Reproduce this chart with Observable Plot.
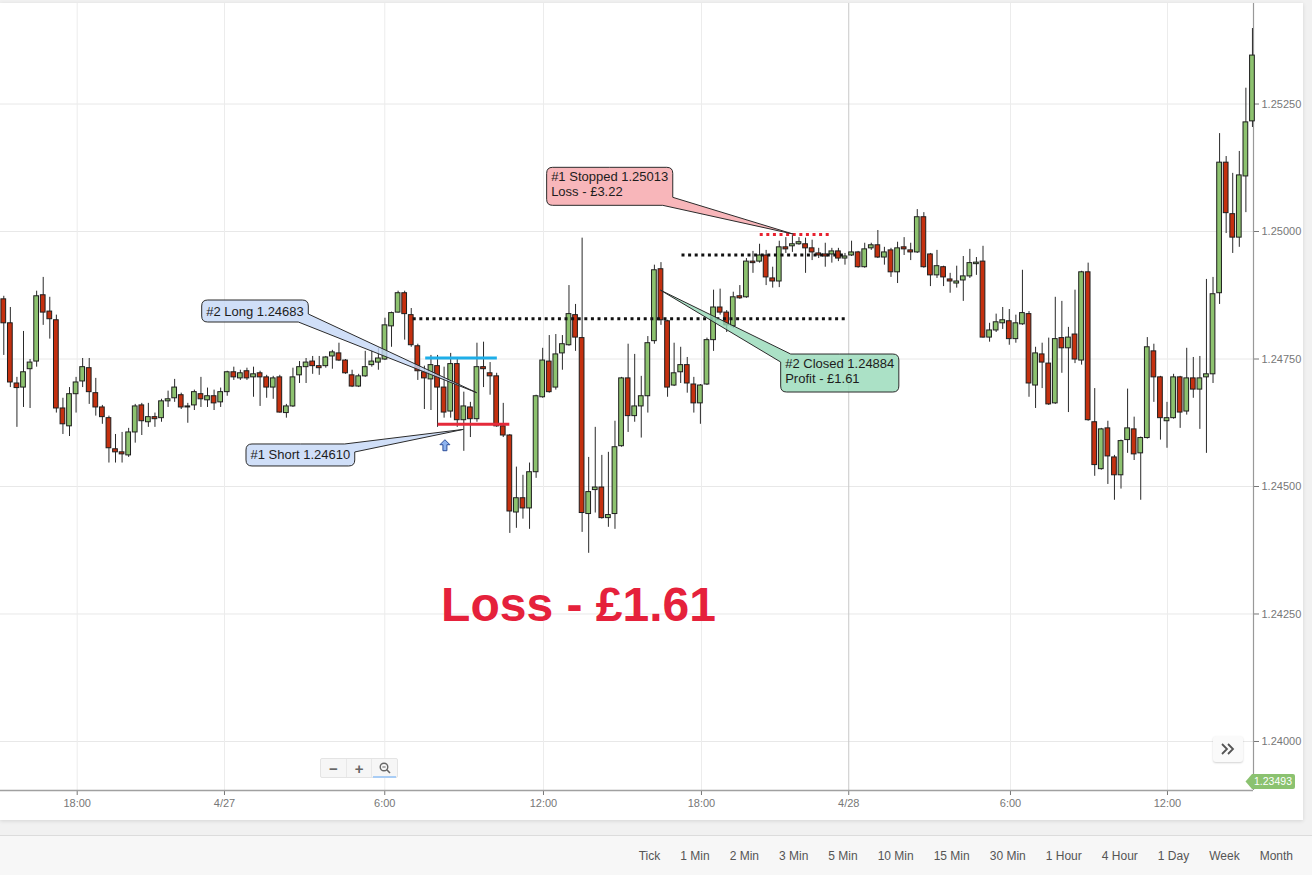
<!DOCTYPE html>
<html>
<head>
<meta charset="utf-8">
<script src="https://cdn.jsdelivr.net/npm/d3@7"></script>
<script src="https://cdn.jsdelivr.net/npm/@observablehq/plot@0.6"></script>
<style>
  html, body { margin: 0; padding: 0; }
  body { width: 1312px; height: 875px; background: #f1f1f1; position: relative; overflow: hidden;
         font-family: Arial, "Liberation Sans", sans-serif; }
  #panel { position: absolute; left: 0; top: 3px; width: 1303px; height: 817px; background: #fff;
           box-shadow: 0 1px 4px rgba(0,0,0,0.12); }
  #panel svg { position: absolute; left: 0; top: 0; }
  #toolbar { position: absolute; left: 0; top: 835px; width: 1312px; height: 40px; background: #f7f7f7;
             border-top: 1px solid #dcdcdc; display: flex; justify-content: flex-end; align-items: center;
             gap: 20px; padding-right: 19px; box-sizing: border-box; font-size: 12px; color: #555; }
  #zoomctl { position: absolute; left: 320px; top: 755px; width: 78px; height: 20px; background: #f6f6f6;
             border: 1px solid #e4e4e4; border-radius: 2px; display: flex; box-sizing: border-box; }
  #zoomctl .zb { flex: 1; display: flex; align-items: center; justify-content: center; color: #666;
                 font-size: 15px; font-weight: bold; border-right: 1px solid #e8e8e8; position: relative; }
  #zoomctl .zb:last-child { border-right: none; }
  #zoomctl .mag::after { content: ""; position: absolute; left: 1px; right: 1px; bottom: -1px; height: 2px; background: #a9cdf5; }
  #more { position: absolute; left: 1213px; top: 733px; width: 30px; height: 26px; background: #fafafa;
          border-radius: 3px; box-shadow: 0 1px 2px rgba(0,0,0,0.18); display: flex; align-items: center; justify-content: center; }
</style>
</head>
<body>
<div id="panel">
  <div id="zoomctl">
    <div class="zb">−</div>
    <div class="zb">+</div>
    <div class="zb mag"><svg width="12" height="12" viewBox="0 0 12 12" style="position:static"><circle cx="5" cy="5" r="3.8" fill="none" stroke="#666" stroke-width="1.4"/><line x1="7.8" y1="7.8" x2="11" y2="11" stroke="#666" stroke-width="1.6"/><line x1="3.4" y1="5" x2="6.6" y2="5" stroke="#666" stroke-width="1"/></svg></div>
  </div>
  <div id="more"><svg width="16" height="14" viewBox="0 0 16 14" style="position:static"><polyline points="2,2 7,7 2,12" fill="none" stroke="#555" stroke-width="1.8"/><polyline points="8,2 13,7 8,12" fill="none" stroke="#555" stroke-width="1.8"/></svg></div>
</div>
<div id="toolbar"></div>
<script>
// ---------- data (15-minute candles) ----------
const open = [1.24867,1.24820,1.24702,1.24694,1.24730,1.24745,1.24875,1.24843,1.24826,1.24653,
1.24618,1.24681,1.24706,1.24732,1.24683,1.24655,1.24634,1.24573,1.24567,1.24561,
1.24606,1.24659,1.24626,1.24636,1.24634,1.24667,1.24673,1.24679,1.24655,1.24659,
1.24681,1.24669,1.24677,1.24665,1.24685,1.24724,1.24712,1.24726,1.24714,1.24722,
1.24714,1.24694,1.24714,1.24644,1.24657,1.24718,1.24734,1.24745,1.24736,1.24736,
1.24755,1.24761,1.24747,1.24718,1.24696,1.24716,1.24738,1.24743,1.24749,1.24814,
1.24841,1.24879,1.24836,1.24775,1.24724,1.24710,1.24736,1.24694,1.24647,1.24740,
1.24630,1.24655,1.24632,1.24734,1.24722,1.24716,1.24618,1.24600,1.24449,1.24477,
1.24457,1.24528,1.24675,1.24745,1.24694,1.24761,1.24777,1.24836,1.24791,1.24446,
1.24493,1.24498,1.24438,1.24446,1.24579,1.24712,1.24638,1.24657,1.24677,1.24785,
1.24926,1.24824,1.24698,1.24724,1.24738,1.24700,1.24663,1.24700,1.24787,1.24851,
1.24841,1.24814,1.24873,1.24871,1.24941,1.24941,1.24953,1.24908,1.24902,1.24969,
1.24971,1.24975,1.24975,1.24967,1.24957,1.24955,1.24955,1.24961,1.24947,1.24953,
1.24959,1.24930,1.24967,1.24973,1.24949,1.24963,1.24920,1.24969,1.24963,1.24959,
1.25028,1.24955,1.24914,1.24930,1.24906,1.24898,1.24904,1.24912,1.24936,1.24941,
1.24792,1.24806,1.24820,1.24824,1.24789,1.24818,1.24838,1.24698,1.24759,1.24741,
1.24663,1.24791,1.24771,1.24798,1.24747,1.24920,1.24626,1.24534,1.24614,1.24557,
1.24522,1.24591,1.24612,1.24565,1.24595,1.24765,1.24714,1.24628,1.24634,1.24714,
1.24647,1.24712,1.24690,1.24714,1.24720,1.24879,1.25135,1.25034,1.24988,1.25108,
1.25216];
const high = [1.24873,1.24851,1.24714,1.24804,1.24749,1.24883,1.24910,1.24871,1.24836,1.24673,
1.24694,1.24714,1.24751,1.24751,1.24712,1.24659,1.24638,1.24602,1.24606,1.24614,
1.24661,1.24663,1.24663,1.24644,1.24671,1.24687,1.24710,1.24683,1.24663,1.24689,
1.24714,1.24693,1.24689,1.24693,1.24726,1.24734,1.24728,1.24732,1.24734,1.24726,
1.24718,1.24716,1.24718,1.24661,1.24732,1.24745,1.24751,1.24755,1.24755,1.24755,
1.24767,1.24781,1.24749,1.24728,1.24720,1.24765,1.24767,1.24771,1.24830,1.24842,
1.24883,1.24883,1.24849,1.24779,1.24736,1.24757,1.24757,1.24734,1.24761,1.24753,
1.24685,1.24665,1.24781,1.24783,1.24743,1.24722,1.24663,1.24602,1.24538,1.24522,
1.24546,1.24679,1.24771,1.24796,1.24798,1.24796,1.24894,1.24857,1.24987,1.24557,
1.24616,1.24561,1.24567,1.24628,1.24714,1.24779,1.24759,1.24716,1.24794,1.24934,
1.24939,1.24826,1.24781,1.24773,1.24753,1.24714,1.24700,1.24791,1.24885,1.24887,
1.24845,1.24881,1.24894,1.24947,1.24961,1.24975,1.24963,1.24930,1.24981,1.24988,
1.24992,1.24988,1.24987,1.24983,1.24967,1.24977,1.24967,1.24967,1.24957,1.24981,
1.24961,1.24977,1.24977,1.25002,1.24969,1.24967,1.24979,1.24988,1.24977,1.25043,
1.25037,1.24957,1.24963,1.24932,1.24918,1.24932,1.24951,1.24965,1.24949,1.24971,
1.24820,1.24838,1.24851,1.24847,1.24836,1.24924,1.24843,1.24773,1.24781,1.24791,
1.24871,1.24863,1.24812,1.24885,1.24922,1.24938,1.24692,1.24614,1.24628,1.24561,
1.24591,1.24691,1.24636,1.24597,1.24792,1.24779,1.24716,1.24665,1.24720,1.24716,
1.24771,1.24753,1.24755,1.24906,1.24910,1.25192,1.25147,1.25114,1.25157,1.25281,
1.25398];
const low = [1.24757,1.24694,1.24616,1.24655,1.24653,1.24734,1.24816,1.24789,1.24644,1.24602,
1.24598,1.24644,1.24694,1.24661,1.24638,1.24622,1.24546,1.24546,1.24546,1.24557,
1.24585,1.24600,1.24616,1.24616,1.24626,1.24655,1.24665,1.24651,1.24624,1.24649,
1.24655,1.24655,1.24649,1.24655,1.24677,1.24708,1.24708,1.24708,1.24675,1.24657,
1.24673,1.24671,1.24644,1.24634,1.24655,1.24702,1.24702,1.24720,1.24718,1.24732,
1.24730,1.24745,1.24720,1.24694,1.24694,1.24714,1.24734,1.24728,1.24747,1.24773,
1.24840,1.24787,1.24773,1.24708,1.24651,1.24649,1.24616,1.24634,1.24634,1.24616,
1.24569,1.24596,1.24626,1.24694,1.24679,1.24616,1.24596,1.24408,1.24418,1.24436,
1.24416,1.24516,1.24673,1.24683,1.24689,1.24728,1.24775,1.24765,1.24410,1.24369,
1.24448,1.24436,1.24420,1.24416,1.24577,1.24606,1.24626,1.24595,1.24644,1.24779,
1.24816,1.24675,1.24696,1.24702,1.24683,1.24644,1.24622,1.24698,1.24765,1.24836,
1.24802,1.24810,1.24867,1.24869,1.24918,1.24938,1.24894,1.24889,1.24890,1.24957,
1.24959,1.24973,1.24918,1.24943,1.24947,1.24930,1.24938,1.24941,1.24934,1.24951,
1.24928,1.24928,1.24963,1.24947,1.24934,1.24910,1.24898,1.24953,1.24943,1.24957,
1.24928,1.24892,1.24908,1.24892,1.24879,1.24889,1.24863,1.24908,1.24914,1.24791,
1.24783,1.24802,1.24808,1.24777,1.24781,1.24816,1.24675,1.24653,1.24692,1.24659,
1.24661,1.24722,1.24645,1.24741,1.24738,1.24628,1.24520,1.24532,1.24504,1.24473,
1.24495,1.24565,1.24551,1.24473,1.24593,1.24665,1.24591,1.24575,1.24632,1.24614,
1.24640,1.24673,1.24612,1.24565,1.24702,1.24857,1.24996,1.24957,1.24969,1.25037,
1.25204];
const close = [1.24820,1.24704,1.24693,1.24724,1.24743,1.24873,1.24841,1.24828,1.24653,1.24622,
1.24681,1.24704,1.24734,1.24685,1.24655,1.24636,1.24575,1.24567,1.24563,1.24606,
1.24657,1.24628,1.24636,1.24632,1.24667,1.24671,1.24694,1.24655,1.24657,1.24685,
1.24671,1.24677,1.24663,1.24685,1.24724,1.24714,1.24722,1.24712,1.24720,1.24714,
1.24694,1.24712,1.24645,1.24657,1.24714,1.24734,1.24743,1.24736,1.24732,1.24753,
1.24763,1.24747,1.24722,1.24696,1.24716,1.24734,1.24745,1.24751,1.24816,1.24840,
1.24879,1.24838,1.24777,1.24726,1.24712,1.24738,1.24694,1.24645,1.24740,1.24630,
1.24657,1.24632,1.24734,1.24730,1.24716,1.24618,1.24600,1.24451,1.24477,1.24457,
1.24528,1.24677,1.24747,1.24685,1.24759,1.24779,1.24838,1.24792,1.24448,1.24489,
1.24498,1.24438,1.24444,1.24577,1.24712,1.24638,1.24657,1.24677,1.24781,1.24924,
1.24826,1.24694,1.24722,1.24738,1.24702,1.24663,1.24698,1.24787,1.24851,1.24841,
1.24816,1.24871,1.24869,1.24941,1.24938,1.24953,1.24910,1.24902,1.24969,1.24965,
1.24975,1.24979,1.24967,1.24959,1.24953,1.24951,1.24961,1.24947,1.24951,1.24959,
1.24930,1.24965,1.24973,1.24949,1.24959,1.24920,1.24967,1.24965,1.24959,1.25028,
1.24930,1.24914,1.24932,1.24910,1.24902,1.24902,1.24912,1.24938,1.24939,1.24792,
1.24806,1.24822,1.24826,1.24789,1.24820,1.24840,1.24702,1.24761,1.24743,1.24661,
1.24789,1.24771,1.24792,1.24749,1.24920,1.24630,1.24542,1.24612,1.24559,1.24522,
1.24589,1.24614,1.24563,1.24595,1.24773,1.24714,1.24634,1.24634,1.24714,1.24645,
1.24712,1.24690,1.24712,1.24720,1.24877,1.25135,1.25036,1.24988,1.25110,1.25214,
1.25345];

// axis: positions of the time gridlines (in candle index units) and their labels
const tickPos    = [11.17, 33.58, 57.97, 82.12, 106.16, 128.57, 153.18, 177.07];
const tickLabels = ["18:00", "4/27", "6:00", "12:00", "18:00", "4/28", "6:00", "12:00"];
const dayBreak   = ["4/28"];
const yTicks     = [1.24000, 1.24250, 1.24500, 1.24750, 1.25000, 1.25250];
const xDomain    = [-0.5, 190.16];
const yDomain    = [1.239039, 1.254471];
const lastPrice  = 1.23493;

// trade levels (candle index range, price)
const dottedBlack = [{from: 62.3, to: 128.1, price: 1.24829}, {from: 103.2, to: 128.1, price: 1.24954}];
const dottedRed   = [{from: 115.1, to: 125.6, price: 1.24994}];
const solidBlue   = [{from: 64.2, to: 75.1, price: 1.24752}];
const solidRed    = [{from: 66.1, to: 77.0, price: 1.24622}];
const entryMark   = [{i: 67.2, price: 1.24579}];

// callouts: text, box anchor (index, price), pointer target (index, price)
const calloutLines  = [["#2 Long 1.24683"], ["#1 Short 1.24610"], ["#1 Stopped 1.25013", "Loss - £3.22"], ["#2 Closed 1.24884", "Profit - £1.61"]];
const calloutAt     = [[30.19, 1.248647], [36.93, 1.245824], [82.68, 1.251249], [118.29, 1.247588]];
const calloutTarget = [[72.03, 1.24683], [70.0, 1.24611], [120.2, 1.24994], [100.0, 1.24884]];
const bigLabel      = [{text: "Loss - £1.61", i: 87.45, price: 1.24266}];
const timeframes    = ["Tick", "1 Min", "2 Min", "3 Min", "5 Min", "10 Min", "15 Min", "30 Min", "1 Hour", "4 Hour", "1 Day", "Week", "Month"];

// ---------- styles ----------
const FONT = "Arial, 'Liberation Sans', sans-serif";
const UP = "#8dc26f", DOWN = "#c4300f", EDGE = "#1e1e1e";
const calloutFill = ["#c6d8f6", "#c6d8f6", "#f6a6ab", "#98dab9"];

// ---------- build ----------
const candles = open.map((o, i) => ({i, o, h: high[i], l: low[i], c: close[i]}));
const up = candles.filter(d => d.c >= d.o), down = candles.filter(d => d.c < d.o);
const labelOf = new Map(tickPos.map((p, k) => [p, tickLabels[k]]));
const ticksData = tickPos.map((p, k) => ({p, label: tickLabels[k]}));

const chart = Plot.plot({
  width: 1303, height: 817,
  marginLeft: 0, marginRight: 50, marginTop: 0, marginBottom: 30,
  style: {background: "transparent", fontFamily: FONT, fontSize: "11px", color: "#777", overflow: "visible"},
  x: {domain: xDomain, axis: "bottom", ticks: tickPos, tickFormat: d => labelOf.get(d), tickSize: 5, tickPadding: 4, label: null},
  y: {domain: yDomain, axis: "right", ticks: yTicks, tickFormat: d3.format(".5f"), tickSize: 5, tickPadding: 3, label: null},
  marks: [
    Plot.ruleY(yTicks, {stroke: "#e8e8e8", strokeWidth: 1}),
    Plot.ruleX(ticksData.filter(d => !dayBreak.includes(d.label)), {x: "p", stroke: "#ececec", strokeWidth: 1}),
    Plot.ruleX(ticksData.filter(d => dayBreak.includes(d.label)), {x: "p", stroke: "#c9c9c9", strokeWidth: 1}),
    Plot.ruleY([yDomain[0]], {stroke: "#a0a0a0", strokeWidth: 1.5}),
    Plot.ruleX([xDomain[1]], {stroke: "#999", strokeWidth: 1.2}),
    Plot.ruleX(candles, {x: "i", y1: "l", y2: "h", stroke: "#2a2a2a", strokeWidth: 1}),
    Plot.rect(up,   {x1: d => d.i - 0.36, x2: d => d.i + 0.36, y1: "o", y2: "c", fill: UP,   stroke: EDGE, strokeWidth: 1}),
    Plot.rect(down, {x1: d => d.i - 0.36, x2: d => d.i + 0.36, y1: "o", y2: "c", fill: DOWN, stroke: EDGE, strokeWidth: 1}),
    Plot.ruleY(dottedBlack, {x1: "from", x2: "to", y: "price", stroke: "#111", strokeWidth: 3, strokeDasharray: "3,3.6"}),
    Plot.ruleY(dottedRed,   {x1: "from", x2: "to", y: "price", stroke: "#e8202e", strokeWidth: 3, strokeDasharray: "3,3.6"}),
    Plot.ruleY(solidBlue,   {x1: "from", x2: "to", y: "price", stroke: "#1eaee8", strokeWidth: 3}),
    Plot.ruleY(solidRed,    {x1: "from", x2: "to", y: "price", stroke: "#e52a3a", strokeWidth: 3}),
    Plot.text(bigLabel, {x: "i", y: "price", text: "text", fontSize: 48, fontWeight: "bold", fill: "#e5213b", fontFamily: FONT})
  ]
});
document.getElementById("panel").prepend(chart);

// ---------- overlays through the plot's own scales ----------
const sx = chart.scale("x"), sy = chart.scale("y");
const X = v => sx.apply(v), Y = v => sy.apply(v);
const svg = d3.select(chart);
const overlay = svg.append("g").attr("font-family", FONT).attr("text-anchor", "start");

// entry arrow
entryMark.forEach(m => {
  const cx = X(m.i), cy = Y(m.price);
  overlay.append("path")
    .attr("d", `M${cx},${cy-6}L${cx+5},${cy-1}L${cx+2},${cy-1}L${cx+2},${cy+5}L${cx-2},${cy+5}L${cx-2},${cy-1}L${cx-5},${cy-1}Z`)
    .attr("fill", "#8db3ef").attr("stroke", "#2d4f9a").attr("stroke-width", 1);
});

function bubble(x0, y0, x1, y1, tx, ty, r, a, b) {
  const cx = (x0 + x1) / 2, cy = (y0 + y1) / 2;
  const corner = (ty < cy ? "T" : "B") + (tx < cx ? "L" : "R");
  let p = `M${cx},${y0}`;
  p += corner === "TR" ? `L${x1-a},${y0}L${tx},${ty}L${x1},${y0+b}` : `L${x1-r},${y0}Q${x1},${y0} ${x1},${y0+r}`;
  p += corner === "BR" ? `L${x1},${y1-b}L${tx},${ty}L${x1-a},${y1}` : `L${x1},${y1-r}Q${x1},${y1} ${x1-r},${y1}`;
  p += corner === "BL" ? `L${x0+a},${y1}L${tx},${ty}L${x0},${y1-b}` : `L${x0+r},${y1}Q${x0},${y1} ${x0},${y1-r}`;
  p += corner === "TL" ? `L${x0},${y0+b}L${tx},${ty}L${x0+a},${y0}` : `L${x0},${y0+r}Q${x0},${y0} ${x0+r},${y0}`;
  return p + "Z";
}

calloutLines.forEach((lines, k) => {
  const bx = X(calloutAt[k][0]), by = Y(calloutAt[k][1]);
  const tx = X(calloutTarget[k][0]), ty = Y(calloutTarget[k][1]);
  const grp = overlay.append("g");
  const path = grp.append("path");
  const texts = lines.map((s, j) => grp.append("text")
    .attr("x", bx + 4.5)
    .attr("y", by + (lines.length === 1 ? 15.5 : 14 + 15 * j))
    .attr("text-anchor", "start")
    .attr("font-size", 13).attr("fill", "#1d1d1d").text(s));
  const w = Math.max(...texts.map(t => t.node().getComputedTextLength())) + 9;
  const h = lines.length === 1 ? 22 : 38;
  path.attr("d", bubble(bx, by, bx + w, by + h, tx, ty, 6, 10, 8))
    .attr("fill", calloutFill[k]).attr("fill-opacity", 0.82)
    .attr("stroke", "#2b2b2b").attr("stroke-width", 1).attr("stroke-linejoin", "round");
});

// last price tag on the price axis (clamped to the bottom)
{
  const ax = X(xDomain[1]);
  const yc = Math.min(Y(lastPrice), Y(yDomain[0]) - 8.5);
  overlay.append("path")
    .attr("d", `M${ax-7.5},${yc}L${ax-1},${yc-7.5}L${ax+40},${yc-7.5}Q${ax+42},${yc-7.5} ${ax+42},${yc-5.5}L${ax+42},${yc+5.5}Q${ax+42},${yc+7.5} ${ax+40},${yc+7.5}L${ax-1},${yc+7.5}Z`)
    .attr("fill", "#8bc270");
  overlay.append("text").attr("x", ax + 20).attr("y", yc + 3.8).attr("text-anchor", "middle")
    .attr("font-size", 10.5).attr("fill", "#fff").text(lastPrice.toFixed(5));
}

// timeframe bar
const tb = document.getElementById("toolbar");
timeframes.forEach(t => { const s = document.createElement("span"); s.textContent = t; tb.appendChild(s); });
</script>
</body>
</html>
